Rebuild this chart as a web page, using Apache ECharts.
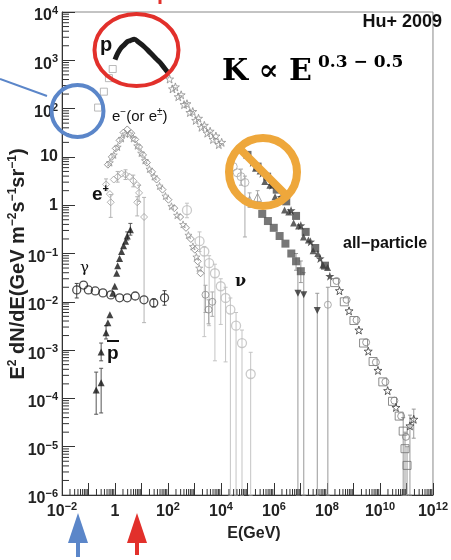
<!DOCTYPE html>
<html>
<head>
<meta charset="utf-8">
<script src="https://cdn.jsdelivr.net/npm/echarts@6/dist/echarts.min.js"></script>
<style>
  html, body { margin: 0; padding: 0; background: #fff; }
  #chart { width: 451px; height: 560px; }
</style>
</head>
<body>
<div id="chart"></div>
<script>
// Energies in GeV, fluxes as E^2 dN/dE in GeV m^-2 s^-1 sr^-1.

// labelled decades
const xLabelDecades = [-2, 0, 2, 4, 6, 8, 10, 12];
const yLabelDecades = [-6, -5, -4, -3, -2, -1, 0, 1, 2, 3, 4];

// protons
const pLowE = [0.23, 0.38, 0.59, 0.82];
const pLowF = [105, 224, 427, 660];
const pPeakE = [1.0, 1.26, 1.63, 2.3, 2.94, 3.8, 5.33, 8.1, 12.4, 19, 29, 41, 57, 74, 104];
const pPeakF = [1030, 1390, 1760, 2120, 2440, 2560, 2720, 2330, 1930, 1530, 1210, 1000, 828, 687, 543];
const pTailE = [115, 190, 314, 520, 860, 1420, 2350, 3890, 6430, 10600, 148, 244, 404, 670, 1110, 1830, 3030, 5000, 8280];
const pTailF = [409, 281, 193, 126, 87, 63, 45, 34, 27, 20, 256, 176, 121, 83, 57, 41, 31, 23, 18];

// electrons (e- or e+-)
const eMinusE = [0.54, 0.76, 1.07, 1.49, 2.1, 2.9, 4.1, 5.8, 8.1, 11.4, 16, 25, 37, 62, 104, 172, 287, 477, 730, 1030, 1320, 1700];
const eMinusF = [6.9, 10, 15, 22, 32, 37, 31, 23, 16, 11, 7.6, 4.9, 3.4, 2.1, 1.3, 0.87, 0.57, 0.34, 0.20, 0.12, 0.069, 0.039];
const eMinus2E = [0.64, 0.9, 1.26, 1.77, 2.5, 3.5, 4.9, 6.9, 9.7, 13.5, 20, 30, 48, 80, 135, 220, 370, 590, 870, 1180, 1500];
const eMinus2F = [7.6, 11, 16, 24, 30, 30, 24, 17, 12, 8.4, 5.6, 3.9, 2.5, 1.55, 0.95, 0.62, 0.40, 0.24, 0.14, 0.085, 0.050];
const eHighE = [2600, 3400, 4700];
const eHighF = [0.014, 0.0069, 0.010];
const eHighLo = [0.006, 0.0035, 0.005];
const eHighHi = [0.022, 0.011, 0.016];

// positrons
const ePlusE = [0.46, 0.64, 0.69, 0.90, 1.26, 1.77, 2.5, 3.5, 4.9, 6.9, 8.1, 6.9, 12.5];
const ePlusF = [2.7, 1.7, 1.15, 3.4, 3.9, 4.5, 4.3, 3.9, 3.2, 2.6, 1.8, 1.15, 0.57];
const ePlusErrE = [0.46, 0.69, 1.26, 2.5, 4.9, 6.9, 8.1, 12.5];
const ePlusErrLo = [2.0, 0.56, 3.0, 3.4, 2.4, 0.6, 1.2, 0.0037];
const ePlusErrHi = [3.5, 1.66, 5.0, 5.4, 4.2, 1.5, 2.6, 1.45];

// gamma rays
const gammaE = [0.036, 0.065, 0.099, 0.18, 0.35, 0.70, 1.49, 2.9, 5.8, 12.4, 29, 74];
const gammaF = [0.0176, 0.0222, 0.0176, 0.0168, 0.0153, 0.0139, 0.0121, 0.0121, 0.0132, 0.0110, 0.0095, 0.0121];
const gammaErrE = [0.036, 29, 74];
const gammaErrLo = [0.012, 0.0078, 0.0085];
const gammaErrHi = [0.024, 0.0115, 0.017];

// antiprotons
const pbarE = [0.195, 0.30, 0.30, 0.46, 0.54, 0.64, 0.82, 0.98, 1.16, 1.26, 1.49, 1.77, 2.1, 2.5, 2.9, 3.8];
const pbarF = [1.5e-4, 2.1e-4, 9.1e-4, 2.3e-3, 3.7e-3, 5.4e-3, 0.015, 0.021, 0.039, 0.056, 0.079, 0.11, 0.145, 0.18, 0.23, 0.31];
const pbarErrE = [0.195, 0.30, 0.30, 0.46, 2.9, 3.8];
const pbarErrLo = [4.7e-5, 5e-5, 6e-4, 1.7e-3, 0.19, 0.24];
const pbarErrHi = [3.5e-4, 4.2e-4, 1.4e-3, 3.2e-3, 0.28, 0.42];

// neutrinos
const nuE = [520, 1550, 2350, 3570, 5900, 9800, 14900, 22600, 37000, 62000, 132000];
const nuF = [0.79, 0.18, 0.11, 0.063, 0.039, 0.021, 0.012, 6.9e-3, 3.2e-3, 1.4e-3, 3.2e-4];
const nuLo = [0.55, 0.11, 1.9e-3, 3.2e-3, 6e-4, 3.4e-3, 5.7e-4, 1e-6, 1e-6, 1e-6, 1e-6];
const nuHi = [1.1, 0.28, 0.14, 0.09, 0.06, 0.03, 0.02, 0.012, 6e-3, 2.6e-3, 9e-4];

// direct-measurement points near the knee region
const kneeCircE = [2.9e4, 4.1e4, 5.7e4, 8.0e4];
const kneeCircF = [6.3, 4.7, 3.9, 2.95];
const kneeTriE = [1.2e5, 2.4e5];
const kneeTriF = [1.27, 1.45];
const kneeErrE = [5.7e4, 8.0e4, 1.2e5, 2.4e5];
const kneeErrLo = [2.6, 0.22, 0.9, 1.05];
const kneeErrHi = [5.6, 4.0, 1.8, 2.0];

// all-particle spectrum
const allDarkE = [1.0e5, 2.4e5, 5.5e5, 1.27e6, 2.9e6, 6.8e6, 1.57e7, 3.6e7, 8.4e7];
const allDarkF = [11, 6.3, 3.9, 2.1, 1.2, 0.60, 0.28, 0.13, 0.056];
const allDark2E = [1.55e5, 3.6e5, 8.4e5, 1.9e6, 4.4e6, 1.03e7, 2.4e7, 5.5e7, 1.28e8];
const allDark2F = [7.7, 4.6, 2.6, 1.46, 0.78, 0.38, 0.175, 0.079, 0.034];
const allDark3E = [1.25e5, 2.0e5, 3.0e5, 4.5e5, 7.0e5, 1.1e6, 1.6e6, 2.5e6, 3.6e6, 5.5e6, 8.5e6, 1.3e7, 2.0e7, 3.0e7, 4.5e7, 7.0e7, 1.05e8];
const allDark3F = [10.1, 5.8, 5.1, 3.1, 2.6, 1.5, 1.36, 0.80, 0.72, 0.43, 0.37, 0.22, 0.19, 0.114, 0.10, 0.058, 0.051];
const allOpenE = [1.94e8, 4.5e8, 1.04e9, 2.4e9, 5.5e9, 1.28e10, 2.97e10, 5.3e10, 7.5e10, 8.8e10, 1.05e11];
const allOpenF = [0.025, 0.010, 4.1e-3, 1.4e-3, 5.8e-4, 2.2e-4, 8.7e-5, 4.3e-5, 2.1e-5, 9.1e-6, 4.1e-6];
const allOpen2E = [2.95e8, 6.8e8, 1.6e9, 3.6e9, 8.4e9, 1.95e10, 4.0e10, 1.35e11, 1.88e11];
const allOpen2F = [0.017, 6.5e-3, 2.6e-3, 9.5e-4, 3.8e-4, 1.45e-4, 6.5e-5, 2.7e-5, 3.7e-5];
const allOpen3E = [2.3e8, 5.5e8, 1.3e9, 3.0e9, 7.0e9, 1.6e10, 3.5e10, 6.3e10, 9.5e10];
const allOpen3F = [0.027, 0.011, 4.2e-3, 1.45e-3, 5.6e-4, 2.2e-4, 9.0e-5, 4.3e-5, 1.6e-5];
const allErrE = [7.5e10, 8.8e10, 1.05e11, 1.35e11, 1.88e11];
const allErrLo = [1e-6, 1e-6, 1e-6, 1e-6, 1.5e-5];
const allErrHi = [4e-5, 2e-5, 1e-5, 4.5e-5, 6e-5];

// light component below the all-particle band
const lightE = [3.6e5, 5.9e5, 9.8e5, 1.63e6, 2.7e6, 4.5e6, 6.8e6, 1.03e7];
const lightF = [0.66, 0.47, 0.34, 0.23, 0.16, 0.10, 0.069, 0.043];
const lightTriE = [8.0e6, 1.33e7, 4.3e7];
const lightTriF = [0.015, 0.014, 6.6e-3];
const lightCircE = [1.08e8];
const lightCircF = [8.7e-3];
const lightErrE = [8.0e6, 1.33e7, 4.3e7, 1.08e8, 6.8e6, 1.03e7];
const lightErrLo = [1e-6, 1e-6, 1e-6, 1e-6, 0.045, 0.025];
const lightErrHi = [0.05, 0.04, 0.015, 0.02, 0.1, 0.07];

// ---------------------------------------------------------------------------
const lg = Math.log10;
const pts = (E, F) => E.map((e, i) => [lg(e), lg(F[i])]);
const bars = (E, lo, hi) => E.map((e, i) => [lg(e), lg(lo[i]), lg(hi[i])]);

const STAR = 'path://M0,-10L2.35,-3.24L9.51,-3.09L3.8,1.24L5.88,8.09L0,4L-5.88,8.09L-3.8,1.24L-9.51,-3.09L-2.35,-3.24Z';
const NONE = 'rgba(255,255,255,0)';
const SANS = '"Liberation Sans", Arial, sans-serif';
const SERIF = '"DejaVu Serif", "Liberation Serif", serif';

function hollow(E, F, symbol, size, stroke, extra) {
  return Object.assign({
    type: 'scatter', data: pts(E, F), symbol, symbolSize: size, silent: true, z: 3,
    itemStyle: { color: NONE, borderColor: stroke, borderWidth: 1 }
  }, extra || {});
}
function filled(E, F, symbol, size, fill, extra) {
  return Object.assign({
    type: 'scatter', data: pts(E, F), symbol, symbolSize: size, silent: true, z: 3,
    itemStyle: { color: fill }
  }, extra || {});
}
function errorBars(data, color) {
  return {
    type: 'custom', data, silent: true, z: 2,
    renderItem(params, api) {
      const x = api.value(0);
      const lo = api.coord([x, api.value(1)]);
      const hi = api.coord([x, api.value(2)]);
      const st = { stroke: color, lineWidth: 1 };
      return {
        type: 'group', children: [
          { type: 'line', shape: { x1: lo[0], y1: lo[1], x2: hi[0], y2: hi[1] }, style: st },
          { type: 'line', shape: { x1: hi[0] - 2, y1: hi[1], x2: hi[0] + 2, y2: hi[1] }, style: st },
          { type: 'line', shape: { x1: lo[0] - 2, y1: lo[1], x2: lo[0] + 2, y2: lo[1] }, style: st }
        ]
      };
    }
  };
}

// log-spaced minor ticks (2..9 within each decade)
const minorX = [], minorY = [];
for (let d = -2; d < 12; d++) for (let m = 2; m <= 9; m++) minorX.push([d + lg(m), -6]);
for (let d = -6; d < 4; d++) for (let m = 2; m <= 9; m++) minorY.push([-2, d + lg(m)]);
function minorTicks(data, horizontal) {
  return {
    type: 'custom', data, silent: true, z: 4,
    renderItem(params, api) {
      const p = api.coord([api.value(0), api.value(1)]);
      const shape = horizontal
        ? { x1: p[0], y1: p[1], x2: p[0], y2: p[1] - 6 }
        : { x1: p[0], y1: p[1], x2: p[0] + 7, y2: p[1] };
      return { type: 'line', shape, style: { stroke: '#333', lineWidth: 1 } };
    }
  };
}

const supText = n => String(n).replace('-', '\u2212');
const xLab = v => {
  const d = Math.round(v);
  if (xLabelDecades.indexOf(d) < 0 || Math.abs(v - d) > 1e-6) return '';
  if (d === 0) return '{b|1}';
  return '{b|10}{s|' + supText(d) + '}';
};
const yLab = v => {
  const d = Math.round(v);
  if (yLabelDecades.indexOf(d) < 0) return '';
  if (d === 0) return '{p|1}';
  if (d === 1) return '{p|10}';
  return '{b|10}{s|' + supText(d) + '}';
};
// base digits sit lower than the exponent through asymmetric padding
const labelRich = {
  p: { fontSize: 16, fontWeight: 'bold', fontFamily: SANS, color: '#222', lineHeight: 16 },
  b: { fontSize: 16, fontWeight: 'bold', fontFamily: SANS, color: '#222', lineHeight: 15, padding: [8, 0, 0, 0] },
  s: { fontSize: 11, fontWeight: 'bold', fontFamily: SANS, color: '#222', lineHeight: 11, padding: [0, 0, 2, 0] }
};

const chart = echarts.init(document.getElementById('chart'), null, { renderer: 'canvas' });

const textEl = (x, y, style, extra) => Object.assign({
  type: 'text', x, y, z: 50, silent: true,
  style: Object.assign({ fill: '#111', align: 'left', verticalAlign: 'middle' }, style)
}, extra || {});

chart.setOption({
  animation: false,
  backgroundColor: '#fff',
  grid: { left: 62, right: 4, top: 5, bottom: 65, show: true, borderColor: '#888', borderWidth: 1 },
  xAxis: {
    type: 'value', min: -2, max: 12, interval: 1,
    axisLine: { onZero: false, lineStyle: { color: '#333', width: 1 } },
    axisTick: { inside: true, length: 12, lineStyle: { color: '#333' } },
    splitLine: { show: false },
    axisLabel: {
      margin: 5, formatter: xLab, rich: labelRich, showMinLabel: true, showMaxLabel: true,
      alignMinLabel: 'center', alignMaxLabel: 'center'
    }
  },
  yAxis: {
    type: 'value', min: -6, max: 4, interval: 1,
    axisLine: { onZero: false, lineStyle: { color: '#333', width: 1 } },
    axisTick: { inside: true, length: 13, lineStyle: { color: '#333' } },
    splitLine: { show: false },
    axisLabel: { margin: 4, formatter: yLab, rich: labelRich, showMinLabel: true, showMaxLabel: true }
  },
  series: [
    minorTicks(minorX, true),
    minorTicks(minorY, false),

    errorBars(bars(nuE, nuLo, nuHi), '#c4c4c4'),
    errorBars(bars(ePlusErrE, ePlusErrLo, ePlusErrHi), '#b4b4b4'),
    errorBars(bars(eHighE, eHighLo, eHighHi), '#aaaaaa'),
    errorBars(bars(kneeErrE, kneeErrLo, kneeErrHi), '#aaaaaa'),
    errorBars(bars(lightErrE, lightErrLo, lightErrHi), '#999999'),
    errorBars(bars(allErrE, allErrLo, allErrHi), '#999999'),
    errorBars(bars(gammaErrE, gammaErrLo, gammaErrHi), '#444444'),
    errorBars(bars(pbarErrE, pbarErrLo, pbarErrHi), '#555555'),

    hollow(pLowE, pLowF, 'rect', 7, '#a8a8a8'),
    hollow(pTailE, pTailF, STAR, 8, '#8c8c8c'),
    {
      type: 'line', data: pts(pPeakE, pPeakF), smooth: 0.35, symbol: 'none', silent: true, z: 4,
      lineStyle: { color: '#1c1c1c', width: 5 }
    },

    hollow(eMinusE, eMinusF, 'diamond', 7, '#7a7a7a'),
    hollow(eMinus2E, eMinus2F, STAR, 7, '#969696'),
    hollow(eHighE, eHighF, 'circle', 7, '#8a8a8a'),
    hollow(ePlusE, ePlusF, 'diamond', 7, '#a0a0a0'),

    hollow(gammaE, gammaF, 'circle', 8, '#1e1e1e', { itemStyle: { color: NONE, borderColor: '#1e1e1e', borderWidth: 1.3 } }),
    filled(pbarE, pbarF, 'triangle', 7, '#151515'),
    hollow(nuE, nuF, 'circle', 9, '#bdbdbd', { itemStyle: { color: NONE, borderColor: '#bdbdbd', borderWidth: 1.3 } }),

    hollow(kneeCircE, kneeCircF, 'circle', 8, '#a6a6a6'),
    hollow(kneeTriE, kneeTriF, 'triangle', 8, '#8f8f8f'),

    filled(lightE, lightF, 'rect', 8, '#555555'),
    filled(lightTriE, lightTriF, 'triangle', 7, '#2e2e2e', { symbolRotate: 180 }),
    hollow(lightCircE, lightCircF, 'circle', 7, '#999999'),

    filled(allDarkE, allDarkF, 'rect', 8, '#4a4a4a'),
    filled(allDark3E, allDark3F, 'triangle', 7, '#3a3a3a'),
    filled(allDark2E, allDark2F, STAR, 9, '#2f2f2f'),
    hollow(allOpenE, allOpenF, 'rect', 8, '#707070'),
    hollow(allOpen3E, allOpen3F, 'circle', 7, '#808080'),
    hollow(allOpen2E, allOpen2F, STAR, 8, '#3a3a3a')
  ],
  graphic: [
    // axis titles
    textEl(254, 534, { text: 'E(GeV)', font: 'bold 16px ' + SANS, align: 'center', fill: '#222' }),
    textEl(15, 264, {
      text: '{m|E}{s|2}{m| dN/dE(GeV m}{s|\u22122}{m|s}{s|\u22121}{m|sr}{s|\u22121}{m|)}',
      align: 'center', verticalAlign: 'middle',
      rich: {
        m: { fontSize: 20, fontWeight: 'bold', fontFamily: SANS, fill: '#222', lineHeight: 20, padding: [6, 0, 0, 0] },
        s: { fontSize: 12, fontWeight: 'bold', fontFamily: SANS, fill: '#222', lineHeight: 12, padding: [0, 0, 4, 0] }
      }
    }, { rotation: Math.PI / 2 }),

    // curve labels
    textEl(100, 45, { text: 'p', font: 'bold 20px ' + SANS }),
    textEl(112, 114, {
      text: '{m|e}{s|\u2212}{m|(or e}{s|\u00b1}{m|)}',
      rich: {
        m: { fontSize: 15, fontFamily: SANS, fill: '#111', lineHeight: 15, padding: [6, 0, 0, 0] },
        s: { fontSize: 10, fontFamily: SANS, fill: '#111', lineHeight: 10, padding: [0, 0, 4, 0] }
      }
    }),
    textEl(92, 192, {
      text: '{m|e}{s|+}',
      rich: {
        m: { fontSize: 19, fontWeight: 'bold', fontFamily: SANS, fill: '#111', lineHeight: 18, padding: [6, 0, 0, 0] },
        s: { fontSize: 11, fontWeight: 'bold', fontFamily: SANS, fill: '#111', lineHeight: 11, padding: [0, 0, 6, 0] }
      }
    }),
    textEl(80, 268, { text: '\u03b3', font: '15px ' + SERIF }),
    textEl(107, 354, { text: 'p', font: 'bold 19px ' + SANS }),
    { type: 'line', z: 50, silent: true, shape: { x1: 107, y1: 341, x2: 119, y2: 341 }, style: { stroke: '#111', lineWidth: 2 } },
    textEl(235, 282, { text: '\u03bd', font: 'bold 16px ' + SERIF }),
    textEl(343, 244, { text: 'all\u2212particle', font: 'bold 16px ' + SANS }),

    // header texts
    textEl(442, 22, { text: 'Hu+ 2009', font: 'bold 18px ' + SANS, align: 'right' }),
    textEl(222, 72, { text: 'K \u221d E', font: 'bold 30px ' + SERIF, fill: '#000' }),
    textEl(318, 63, { text: '0.3 \u2212 0.5', font: 'bold 17px ' + SERIF, fill: '#000' }),

    // highlight marks
    { type: 'ellipse', z: 60, silent: true, shape: { cx: 136.5, cy: 50, rx: 42, ry: 36 }, style: { fill: NONE, stroke: '#e2302b', lineWidth: 4 } },
    { type: 'circle', z: 60, silent: true, shape: { cx: 77.5, cy: 111, r: 26 }, style: { fill: NONE, stroke: '#5b86c9', lineWidth: 4 } },
    { type: 'line', z: 60, silent: true, shape: { x1: 0, y1: 79, x2: 47, y2: 96 }, style: { stroke: '#5b86c9', lineWidth: 2 } },
    { type: 'circle', z: 60, silent: true, shape: { cx: 263, cy: 172, r: 34 }, style: { fill: NONE, stroke: '#eea73b', lineWidth: 8 } },
    { type: 'line', z: 60, silent: true, shape: { x1: 239, y1: 148, x2: 287, y2: 196 }, style: { stroke: '#eea73b', lineWidth: 8 } },
    { type: 'rect', z: 60, silent: true, shape: { x: 158.5, y: 0, width: 3, height: 4 }, style: { fill: '#e2302b' } },

    // arrows under the energy axis
    { type: 'polygon', z: 60, silent: true, shape: { points: [[78, 513], [68, 543], [88, 543]] }, style: { fill: '#5b86c9' } },
    { type: 'rect', z: 60, silent: true, shape: { x: 76, y: 542, width: 4, height: 15 }, style: { fill: '#5b86c9' } },
    { type: 'polygon', z: 60, silent: true, shape: { points: [[137, 513], [127, 543], [147, 543]] }, style: { fill: '#e2302b' } },
    { type: 'rect', z: 60, silent: true, shape: { x: 135, y: 542, width: 4, height: 13 }, style: { fill: '#e2302b' } }
  ]
});
</script>
</body>
</html>
